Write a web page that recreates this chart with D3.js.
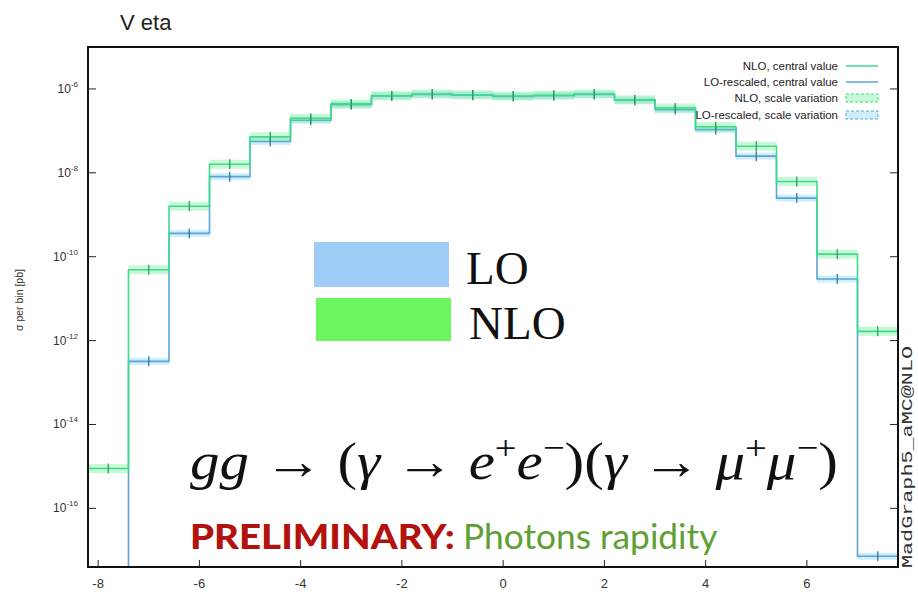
<!DOCTYPE html>
<html>
<head>
<meta charset="utf-8">
<script src="https://cdn.jsdelivr.net/npm/d3@7"></script>
<style>
  html, body { margin: 0; padding: 0; background: #fff; }
  svg { display: block; }
</style>
</head>
<body>
<svg id="chart" width="918" height="592"></svg>
<script>
// ---- data ----
const binEdges = [-8.2, -7.4, -6.6, -5.8, -5.0, -4.2, -3.4, -2.6, -1.8, -1.0, -0.2,
                  0.6, 1.4, 2.2, 3.0, 3.8, 4.6, 5.4, 6.2, 7.0, 7.8];
const nloValues = [8.9e-16, 4.9e-11, 1.6e-9, 1.6e-8, 7.2e-8, 2.0e-7, 4.4e-7, 6.9e-7, 7.6e-7, 7.2e-7,
                   6.8e-7, 7.1e-7, 7.6e-7, 5.5e-7, 3.5e-7, 1.26e-7, 4.3e-8, 6.2e-9, 1.15e-10, 1.66e-12];
const loValues  = [null, 3.2e-13, 3.6e-10, 8.1e-9, 5.6e-8, 1.8e-7, 4.2e-7, 6.8e-7, 7.4e-7, 7.1e-7,
                   6.6e-7, 6.9e-7, 7.4e-7, 5.4e-7, 3.2e-7, 1.07e-7, 2.5e-8, 2.5e-9, 2.95e-11, 7.2e-18];
const xTicks = [-8, -6, -4, -2, 0, 2, 4, 6];
const yTickExps = [-6, -8, -10, -12, -14, -16];
const legendLabels = ["NLO, central value", "LO-rescaled, central value", "NLO, scale variation", "LO-rescaled, scale variation"];

// ---- layout ----
const svg = d3.select("#chart");
const L = 88, R = 898, T = 47, B = 567;
const x = d3.scaleLinear().domain([-8.2, 7.8]).range([L, R]);
const y = d3.scaleLog().domain([4e-18, 1e-5]).range([B, T]);
const yv = v => (v == null ? B : y(v));

const nloColor = "#3ddc8a", nloBand = "rgba(90,235,130,0.33)", nloDark = "#1f9a5a";
const loColor = "#5aa4d6", loBand = "rgba(110,200,240,0.33)", loDark = "#2d6f9e";

// title
svg.append("text").attr("x", 120).attr("y", 30)
  .attr("font-family", "Liberation Sans, Arial, sans-serif").attr("font-size", 22)
  .attr("fill", "#222").text("V eta");

const plot = svg.append("g");

function drawSeries(vals, color, band, dark, bandH) {
  plot.append("g").selectAll("rect").data(vals.map((v, i) => ({v, i})).filter(d => d.v != null))
    .join("rect")
    .attr("x", d => x(binEdges[d.i]))
    .attr("width", d => x(binEdges[d.i + 1]) - x(binEdges[d.i]))
    .attr("y", d => y(d.v) - bandH / 2)
    .attr("height", bandH)
    .attr("fill", band);
  const pts = vals.map((v, i) => [x(binEdges[i]), yv(v)]);
  pts.push([x(binEdges[binEdges.length - 1]), yv(vals[vals.length - 1])]);
  const line = d3.line().curve(d3.curveStepAfter);
  plot.append("path").attr("d", line(pts)).attr("fill", "none")
    .attr("stroke", color).attr("stroke-width", 1.6);
  plot.append("g").selectAll("line").data(vals.map((v, i) => ({v, i})).filter(d => d.v != null && y(d.v) < B - 4))
    .join("line")
    .attr("x1", d => x((binEdges[d.i] + binEdges[d.i + 1]) / 2))
    .attr("x2", d => x((binEdges[d.i] + binEdges[d.i + 1]) / 2))
    .attr("y1", d => y(d.v) - 5).attr("y2", d => y(d.v) + 5)
    .attr("stroke", dark).attr("stroke-width", 1.2);
}
drawSeries(loValues, loColor, loBand, loDark, 7);
drawSeries(nloValues, nloColor, nloBand, nloDark, 9);

// frame
svg.append("rect").attr("x", L).attr("y", T).attr("width", R - L).attr("height", B - T)
  .attr("fill", "none").attr("stroke", "#111").attr("stroke-width", 2);

// y ticks
const yt = svg.append("g");
yTickExps.forEach(e => {
  const yy = y(Math.pow(10, e));
  yt.append("line").attr("x1", L).attr("x2", L + 8).attr("y1", yy).attr("y2", yy).attr("stroke", "#222").attr("stroke-width", 1);
  yt.append("line").attr("x1", R - 8).attr("x2", R).attr("y1", yy).attr("y2", yy).attr("stroke", "#222").attr("stroke-width", 1);
  const t = yt.append("text").attr("x", 78).attr("y", yy + 4).attr("text-anchor", "end")
    .attr("font-family", "Liberation Sans, Arial, sans-serif").attr("font-size", 12).attr("fill", "#333");
  t.append("tspan").text("10");
  t.append("tspan").attr("dy", -6).attr("font-size", 8).text(String(e));
});

// x ticks
const xt = svg.append("g");
xTicks.forEach(v => {
  const xx = x(v);
  xt.append("line").attr("x1", xx).attr("x2", xx).attr("y1", B).attr("y2", B - 7).attr("stroke", "#222").attr("stroke-width", 1);
  xt.append("text").attr("x", xx).attr("y", 588).attr("text-anchor", "middle")
    .attr("font-family", "Liberation Sans Narrow, Liberation Sans, Arial, sans-serif").attr("font-size", 13)
    .attr("fill", "#333").text(v);
});

// y axis label
svg.append("text").attr("transform", "translate(23,300) rotate(-90)").attr("text-anchor", "middle")
  .attr("font-family", "Liberation Sans, Arial, sans-serif").attr("font-size", 10.5).attr("fill", "#333")
  .text("σ per bin [pb]");

// right-side program label
svg.append("text").attr("transform", "translate(912,568) rotate(-90)").attr("text-anchor", "start")
  .attr("font-family", "Liberation Mono, DejaVu Sans Mono, monospace").attr("font-size", 14).attr("fill", "#333")
  .attr("textLength", 222).attr("lengthAdjust", "spacingAndGlyphs")
  .text("MadGraph5_aMC@NLO");

// legend (top right)
const lg = svg.append("g");
const legY = [66, 82, 98, 115];
legendLabels.forEach((lab, i) => {
  lg.append("text").attr("x", 838).attr("y", legY[i] + 4).attr("text-anchor", "end")
    .attr("font-family", "Liberation Sans, Arial, sans-serif").attr("font-size", 11.5).attr("fill", "#222")
    .text(lab);
  if (i < 2) {
    lg.append("line").attr("x1", 846).attr("x2", 878).attr("y1", legY[i]).attr("y2", legY[i])
      .attr("stroke", i === 0 ? nloColor : loColor).attr("stroke-width", 1.5);
  } else {
    lg.append("rect").attr("x", 846).attr("y", legY[i] - 4).attr("width", 32).attr("height", 8)
      .attr("fill", i === 2 ? nloBand : loBand)
      .attr("stroke", i === 2 ? nloColor : loColor).attr("stroke-width", 1).attr("stroke-dasharray", "3,2");
  }
});

// overlay annotation: LO / NLO boxes
svg.append("rect").attr("x", 314).attr("y", 242).attr("width", 135).attr("height", 45).attr("fill", "#9fcdf8");
svg.append("rect").attr("x", 316).attr("y", 298).attr("width", 135).attr("height", 43).attr("fill", "#6cf55e");
svg.append("text").attr("x", 466).attr("y", 284).attr("font-family", "Liberation Serif, DejaVu Serif, serif")
  .attr("font-size", 47).attr("fill", "#111").text("LO");
svg.append("text").attr("x", 469).attr("y", 339).attr("font-family", "Liberation Serif, DejaVu Serif, serif")
  .attr("font-size", 47).attr("fill", "#111").text("NLO");

// helper: stretch a text horizontally to a target width
function fitWidth(sel, x0, yb, targetW) {
  const w = sel.node().getBBox().width;
  sel.attr("transform", `translate(${x0},${yb}) scale(${targetW / w},1)`);
}

// process formula
const f = svg.append("text").attr("x", 0).attr("y", 0)
  .attr("font-family", "Liberation Serif, DejaVu Serif, serif").attr("font-size", 52).attr("fill", "#111");
f.append("tspan").attr("font-style", "italic").text("gg");
f.append("tspan").text(" → (");
f.append("tspan").attr("font-style", "italic").text("γ");
f.append("tspan").text(" → ");
f.append("tspan").attr("font-style", "italic").text("e");
f.append("tspan").attr("dy", -20).attr("font-size", 34).text("+");
f.append("tspan").attr("dy", 20).attr("font-style", "italic").text("e");
f.append("tspan").attr("dy", -20).attr("font-size", 34).text("−");
f.append("tspan").attr("dy", 20).text(")(");
f.append("tspan").attr("font-style", "italic").text("γ");
f.append("tspan").text(" → ");
f.append("tspan").attr("font-style", "italic").text("μ");
f.append("tspan").attr("dy", -20).attr("font-size", 34).text("+");
f.append("tspan").attr("dy", 20).attr("font-style", "italic").text("μ");
f.append("tspan").attr("dy", -20).attr("font-size", 34).text("−");
f.append("tspan").attr("dy", 20).text(")");
fitWidth(f, 190, 479, 648);

// preliminary note
const p1 = svg.append("text").attr("x", 0).attr("y", 0)
  .attr("font-family", "Lato, Open Sans, sans-serif").attr("font-size", 34)
  .attr("font-weight", "900").attr("fill", "#b3120f").text("PRELIMINARY:");
fitWidth(p1, 190, 549, 265);
const p2 = svg.append("text").attr("x", 0).attr("y", 0)
  .attr("font-family", "Lato, Open Sans, sans-serif").attr("font-size", 34)
  .attr("font-weight", "400").attr("fill", "#5fa034").text("Photons rapidity");
fitWidth(p2, 463, 549, 255);
</script>
</body>
</html>
